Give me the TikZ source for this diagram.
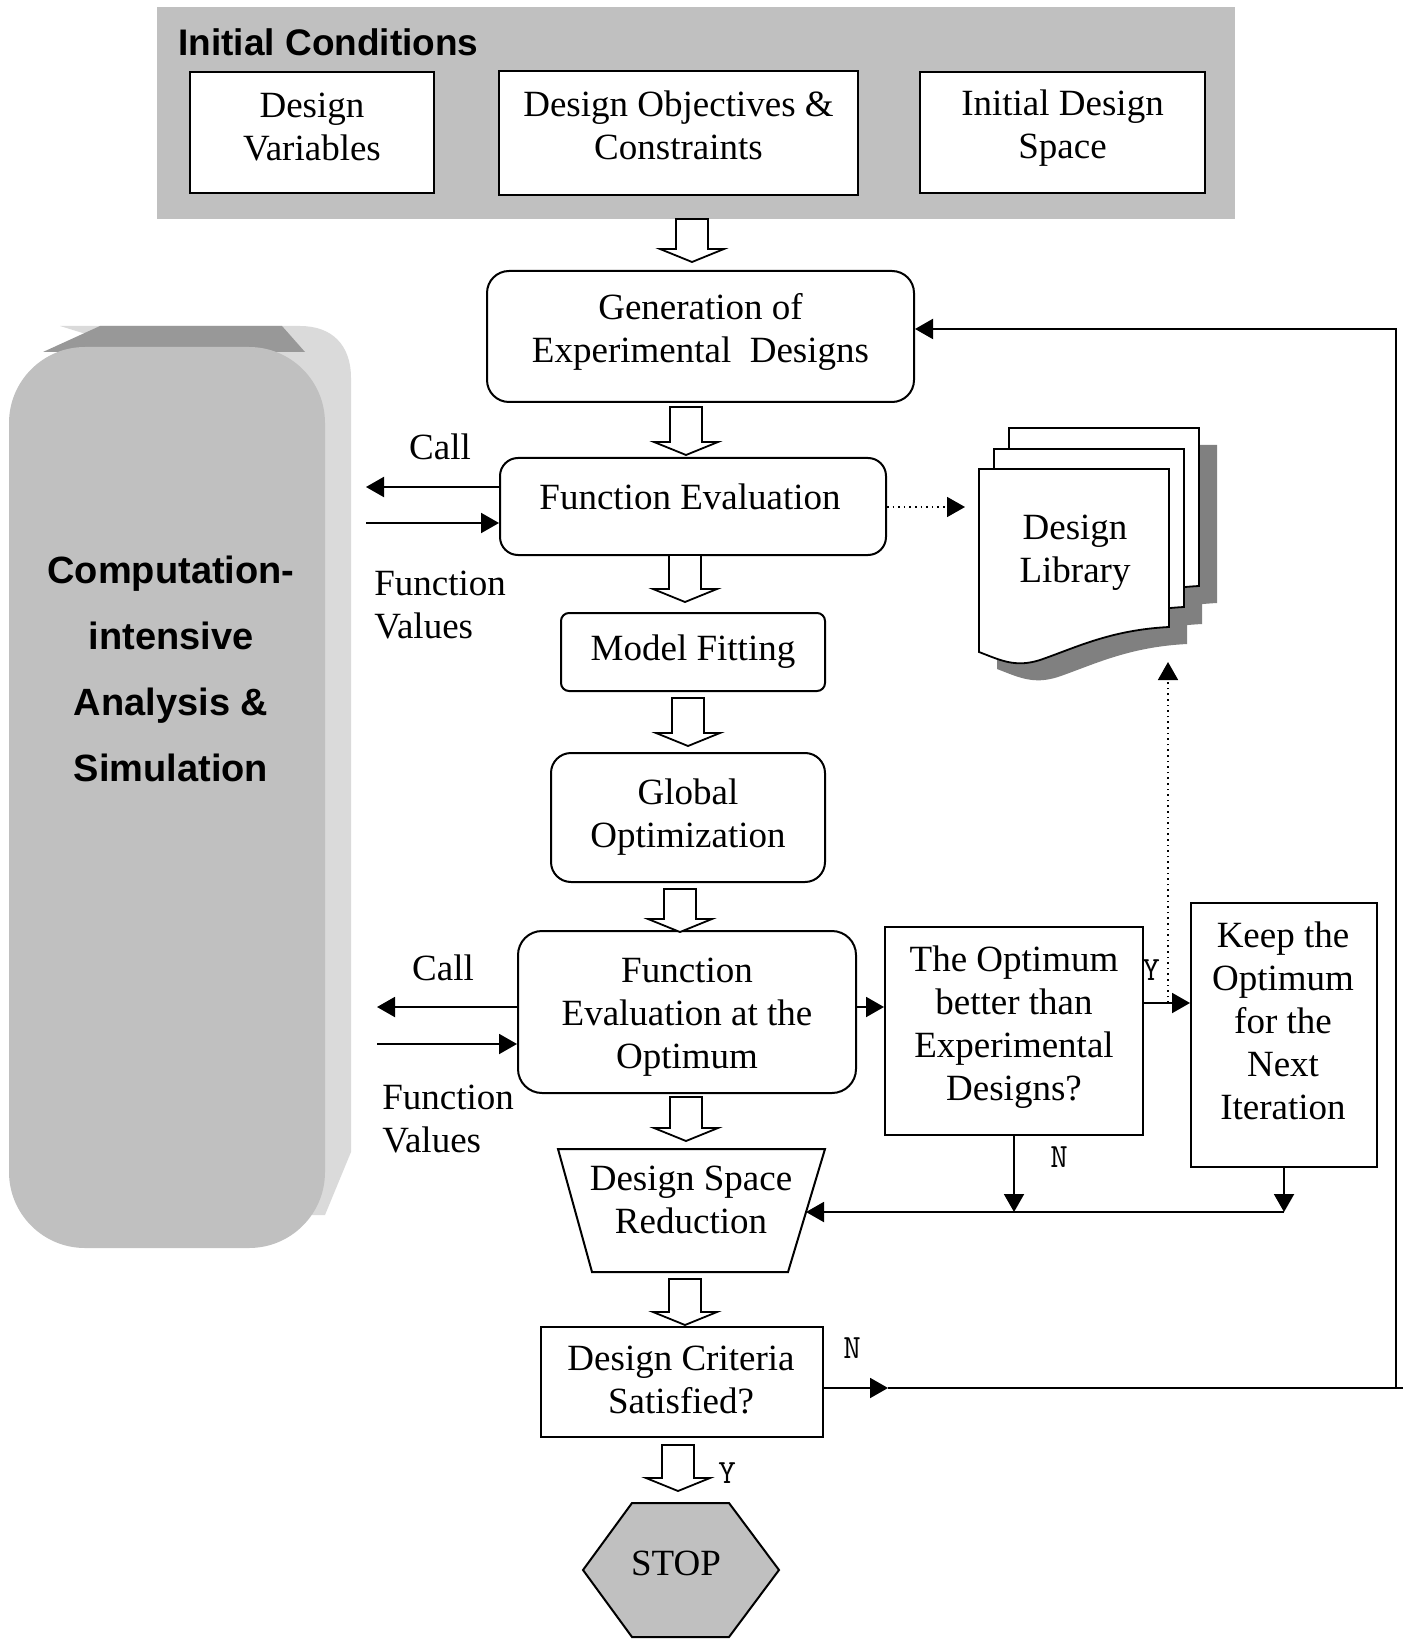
\documentclass[tikz,border=0pt]{standalone}
\usepackage{fontspec}
\setmainfont{Liberation Serif}
\newfontfamily\arialf{Liberation Sans}
\usetikzlibrary{arrows.meta,calc}
\definecolor{bandgray}{HTML}{C0C0C0}
\definecolor{topgray}{HTML}{989898}
\definecolor{sidegray}{HTML}{DADADA}
\definecolor{shadowgray}{HTML}{808080}
\newcommand\mtxt{\fontsize{18.5}{21.5}\selectfont}
\tikzset{
  box/.style={draw, line width=1pt, fill=white, align=center, inner sep=0pt, font=\mtxt},
  rbox/.style={box, rounded corners=#1},
  lbl/.style={inner sep=0pt, font=\mtxt, align=center},
  yn/.style={inner sep=0pt, font=\ttfamily\fontsize{17}{19}\selectfont},
  arr/.style={line width=1pt, -{Triangle[length=9pt,width=10pt]}},
  dotarr/.style={line width=0.8pt, dotted, -{Triangle[length=9pt,width=10pt]}},
  pics/barrow/.style={code={\draw[line width=0.9pt, fill=white] (-16,0) -- (16,0) -- (16,#1-13) -- (32,#1-13) -- (0,#1) -- (-32,#1-13) -- (-16,#1-13) -- cycle;}},
  pics/libpage/.style={code={\path[#1] (0,0) -- (190,0) -- (190,158) .. controls (131,161) and (96,179) .. (61,191) .. controls (36,199) and (21,191) .. (0,183) -- cycle;}}
}
\begin{document}
\begin{tikzpicture}[x=0.5pt,y=-0.5pt]
\useasboundingbox (0,0) rectangle (1408,1641);

% top band
\fill[bandgray] (157,7) rectangle (1235,219);
\node[anchor=west, inner sep=0pt, font=\arialf\bfseries\fontsize{18.5}{22}\selectfont] (ic) at (178,42) {Initial Conditions};
\node[box, minimum width=122pt, minimum height=60.5pt] (dv) at (312,132.5) {};
\node[lbl] (dvt) at (312,127.5) {Design\\Variables};
\node[box, minimum width=179.5pt, minimum height=62pt] (doc) at (678.5,133) {};
\node[lbl] (doct) at (678.5,125) {Design Objectives \&\\Constraints};
\node[box, minimum width=142.5pt, minimum height=60.5pt] (ids) at (1062.5,132.5) {};
\node[lbl] (idst) at (1062.5,128) {Initial Design\\Space};

% left 3D box
\fill[sidegray] (60,326) -- (300,326) .. controls (332,326) and (351,345) .. (351,378) -- (351,1152) -- (325,1215) -- (300,1215) -- (300,400) -- cycle;
\fill[topgray] (43,352) -- (100,326) -- (282,326) -- (305,352) -- cycle;
\fill[bandgray, rounded corners=38] (9,347) rectangle (325,1248);
\node[inner sep=0pt, align=center, font=\arialf\bfseries\fontsize{19}{33}\selectfont] (cia) at (171,669) {Computation-\\intensive\\Analysis \&\\Simulation};

% main column
\node[rbox=11pt, minimum width=213.5pt, minimum height=65.5pt] (gen) at (700.5,336.5) {};
\node[lbl] (gent) at (700.5,332) {Generation of\\Experimental\ \ Designs};
\node[rbox=9pt, minimum width=193pt, minimum height=48.5pt] (fe) at (693,506.5) {};
\node[lbl] (fet) at (690,497) {Function Evaluation};
\node[rbox=4pt, minimum width=132pt, minimum height=39pt] (mf) at (693,652) {Model Fitting};
\node[rbox=10pt, minimum width=137pt, minimum height=64.5pt] (go) at (688,817.5) {Global\\Optimization};
\node[rbox=12pt, minimum width=169pt, minimum height=81pt] (feo) at (687,1012) {};
\node[lbl] (feot) at (687,1017) {Function\\Evaluation at the\\Optimum};
\node[box, minimum width=129pt, minimum height=104pt] (opt) at (1014,1031) {};
\node[lbl] (optt) at (1014,1027) {The Optimum\\better than\\Experimental\\Designs?};
\node[box, minimum width=93pt, minimum height=132pt] (keep) at (1284,1035) {};
\node[lbl] (keept) at (1283,1021) {Keep the\\Optimum\\for the\\Next\\Iteration};
\draw[line width=1pt, fill=white] (558,1149) -- (825,1149) -- (788,1272) -- (592,1272) -- cycle;
\node[lbl] (dsr) at (691,1200) {Design Space\\Reduction};
\node[box, minimum width=141pt, minimum height=55pt] (dc) at (682,1382) {};
\node[lbl] (dct) at (681,1380) {Design Criteria\\Satisfied?};
\draw[line width=1pt, fill=bandgray] (583,1570) -- (632,1503) -- (729,1503) -- (779,1570) -- (729,1637) -- (632,1637) -- cycle;
\node[lbl] (stop) at (676,1563) {STOP};

% block arrows
\pic at (692,219) {barrow=43};
\pic at (686,407) {barrow=48};
\pic at (685,555) {barrow=47};
\pic at (688,698) {barrow=48};
\pic at (680,889) {barrow=43};
\pic at (686,1097) {barrow=44};
\pic at (685,1279) {barrow=46};
\pic at (678,1445) {barrow=46};

% design library
\pic at (1027,445) {libpage={fill=shadowgray}};
\pic at (1012,466) {libpage={fill=shadowgray}};
\pic at (997,486) {libpage={fill=shadowgray}};
\pic at (1009,428) {libpage={draw, fill=white, line width=0.9pt}};
\pic at (994,449) {libpage={draw, fill=white, line width=0.9pt}};
\pic at (979,469) {libpage={draw, fill=white, line width=0.9pt}};
\node[lbl] (lib) at (1075,553) {Design\\Library};

% labels
\node[lbl] (call1) at (440,447) {Call};
\node[lbl, align=left, anchor=west] (fv1) at (374,605) {Function\\Values};
\node[lbl] (call2) at (443,968) {Call};
\node[lbl, align=left, anchor=west] (fv2) at (382,1119) {Function\\Values};
\node[yn] (y1) at (1151,970) {Y};
\node[yn] (n1) at (1059,1157) {N};
\node[yn] (n2) at (852,1348) {N};
\node[yn] (y2) at (727,1473) {Y};

% connectors
\coordinate (c1) at (366,487);
\coordinate (v1) at (366,523);
\draw[arr] (fe.west |- c1) -- (c1);
\draw[arr] (v1) -- (fe.west |- v1);
\coordinate (c2) at (377,1007);
\coordinate (v2) at (377,1044);
\draw[arr] (feo.west |- c2) -- (c2);
\draw[arr] (v2) -- (feo.west |- v2);

\coordinate (libin) at (965,507);
\draw[dotarr] (fe.east |- libin) -- (libin);

\coordinate (frow) at (870,1007);
\draw[arr] (feo.east |- frow) -- (opt.west |- frow);

\coordinate (yrow) at (1168,1003);
\draw[arr] (opt.east |- yrow) -- (keep.west |- yrow);
\coordinate (libup) at (1168,662);
\draw[dotarr] (yrow) -- (libup);

\coordinate (dsrE) at (806,1212);
\draw[arr] (opt.south) -- (opt.south |- dsrE);
\draw[arr] (keep.south) -- (keep.south |- dsrE);
\draw[arr] (keep.south |- dsrE) -- (dsrE);

\coordinate (fbmid) at (888,1388);
\coordinate (fbR) at (1396,1388);
\coordinate (fbT) at (1396,329);
\coordinate (fbEnd) at (1403,1388);
\draw[arr] (dc.east |- fbmid) -- (fbmid);
\draw[line width=1pt] (fbmid) -- (fbEnd);
\draw[arr] (fbR) -- (fbT) -- (fbT -| gen.east);
\end{tikzpicture}
\end{document}
